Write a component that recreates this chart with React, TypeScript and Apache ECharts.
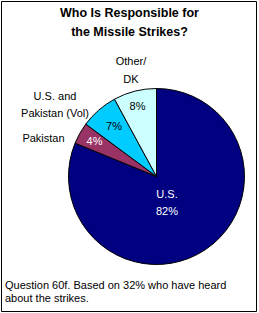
import React, { useEffect, useRef } from "react";
import * as echarts from "echarts";

const categories = ["U.S.", "Pakistan", "U.S. and Pakistan (Vol)", "Other/DK"];
const values = [82, 4, 7, 8];
const colors = ["#000080", "#993366", "#00CCFF", "#CCFFFF"];
const insideLabels = ["U.S.\n82%", "4%", "7%", "8%"];
const insideLabelColors = ["#ffffff", "#ffffff", "#000000", "#000000"];
const outsideLabels = ["", "Pakistan", "U.S. and\nPakistan (Vol)", "Other/\nDK"];
const titleText = "Who Is Responsible for\nthe Missile Strikes?";
const noteText = "Question 60f. Based on 32% who have heard\nabout the strikes.";

const FONT = "'Liberation Sans', Arial, sans-serif";

// label anchor points (centre of each label block), in px
const insidePos: [number, number][] = [
  [167, 202.5],
  [94.5, 141],
  [114, 126],
  [137.5, 106],
];
const outsidePos: [number, number][] = [
  [0, 0],
  [43.5, 137.5],
  [55, 104.5],
  [131, 70],
];

export default function App() {
  const ref = useRef<HTMLDivElement>(null);
  useEffect(() => {
    if (!ref.current) return;
    const chart = echarts.init(ref.current, undefined, { renderer: "svg" });
    const center = [156.5, 176.5];
    const radius = 88;
    chart.setOption({
      animation: false,
      backgroundColor: "#ffffff",
      title: {
        text: titleText,
        left: "center",
        top: 3.5,
        padding: 0,
        textStyle: {
          fontFamily: FONT,
          fontSize: 12.5,
          fontWeight: "bold",
          color: "#000000",
          lineHeight: 19,
        },
      },
      graphic: [
        {
          type: "rect",
          shape: { x: 1.5, y: 1.5, width: 255, height: 310 },
          style: { fill: "none", stroke: "#000000", lineWidth: 1 },
          silent: true,
        },
        {
          type: "text",
          left: 5,
          top: 278,
          style: {
            text: noteText,
            fontFamily: FONT,
            fontSize: 11,
            lineHeight: 13.5,
            fill: "#000000",
          },
        },
      ],
      series: [
        {
          type: "pie",
          center,
          radius: [0, radius],
          startAngle: 90,
          clockwise: true,
          silent: true,
          data: categories.map((name, i) => ({
            name,
            value: values[i],
            itemStyle: { color: colors[i] },
            label: { color: insideLabelColors[i] },
          })),
          itemStyle: { borderColor: "#000000", borderWidth: 1 },
          label: {
            show: true,
            position: "inside",
            fontFamily: FONT,
            fontSize: 11,
            lineHeight: 17,
            align: "center",
            formatter: (p: any) => insideLabels[p.dataIndex],
          },
          labelLine: { show: false },
          labelLayout: (p: any) => ({
            x: insidePos[p.dataIndex][0],
            y: insidePos[p.dataIndex][1],
            align: "center",
            verticalAlign: "middle",
          }),
        },
        {
          type: "pie",
          center,
          radius: [0, radius],
          startAngle: 90,
          clockwise: true,
          silent: true,
          data: categories.map((name, i) => ({
            name,
            value: values[i],
            itemStyle: { color: "rgba(0,0,0,0)", borderWidth: 0 },
            label: { show: outsideLabels[i] !== "" },
          })),
          label: {
            show: true,
            position: "inside",
            fontFamily: FONT,
            fontSize: 11,
            lineHeight: 17.5,
            align: "center",
            color: "#000000",
            overflow: "none",
            formatter: (p: any) => outsideLabels[p.dataIndex],
          },
          labelLine: { show: false },
          labelLayout: (p: any) => ({
            x: outsidePos[p.dataIndex][0],
            y: outsidePos[p.dataIndex][1],
            align: "center",
            verticalAlign: "middle",
          }),
        },
      ],
    });
    return () => chart.dispose();
  }, []);
  return (
    <div
      ref={ref}
      style={{ position: "fixed", left: 0, top: 0, width: 259, height: 313 }}
    />
  );
}
